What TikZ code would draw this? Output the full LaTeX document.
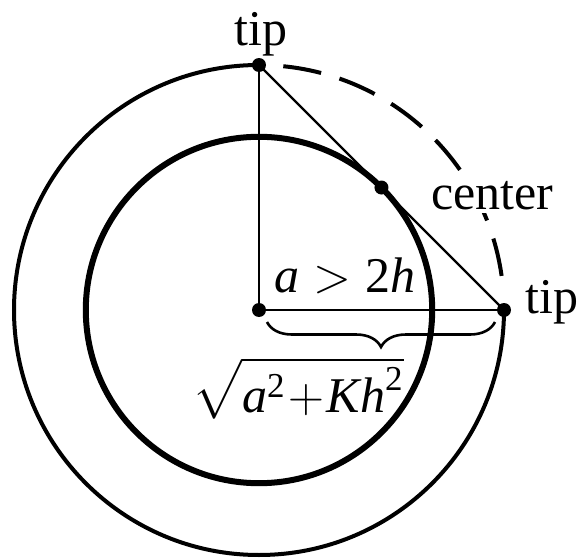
\documentclass[tikz,border=0pt]{standalone}
\usepackage{amsmath}
\usepackage{fontspec}
\setmainfont{Liberation Serif}
\usetikzlibrary{calc, decorations.pathreplacing}

\begin{document}
\begin{tikzpicture}[x=0.5pt, y=0.5pt, line width=1.3pt,
  lbl/.style={font=\fontsize{25}{30}\selectfont, inner sep=0pt},
  dashring/.style={line width=2pt, dash pattern=on 19.2pt off 9.6pt}]
  \useasboundingbox (0, 0) rectangle (580, 559);

  \coordinate (O) at (259, 249);
  \coordinate (T) at (259, 494);
  \coordinate (R) at (504, 249);
  \coordinate (C) at ($(O) + (45:173.2)$);

  % outer ring, solid part and dashed part
  \draw[line width=2pt] (R) arc[start angle=0, end angle=-270, radius=245];
  \draw[dashring] ($(O) + (84.3:245)$) arc[start angle=84.3, end angle=8, radius=245];

  % inner ring
  \draw[line width=3pt] (O) circle[radius=173.2];

  \draw (T) -- (O) -- (R);
  \draw[line width=1.1pt] (T) -- (R);

  % brace under the radius
  \draw[decorate, decoration={brace, mirror, amplitude=12.5pt}]
    (267, 237) -- (495, 237);

  \foreach \p in {T, O, R, C}
    \fill (\p) circle[radius=7];

  \node[lbl, anchor=base] (tipTop) at (261, 514) {tip};
  \node[lbl, anchor=base west] (tipRight) at (524, 246) {tip};
  \node[lbl, anchor=base west, fill=white, inner sep=2pt] (ctrLbl) at (426, 350) {center};
  \node[lbl, anchor=base] (radLbl) at (345, 267) {$\textit{a} > \text{2}\textit{h}$};
  \node[lbl, anchor=base] (sqrtLbl) at (298, 147)
    {$\sqrt{\textit{a}^{\text{2}}\mkern1mu{+}\mkern1mu\textit{Kh}^{\text{2}}}$};
\end{tikzpicture}
\end{document}
